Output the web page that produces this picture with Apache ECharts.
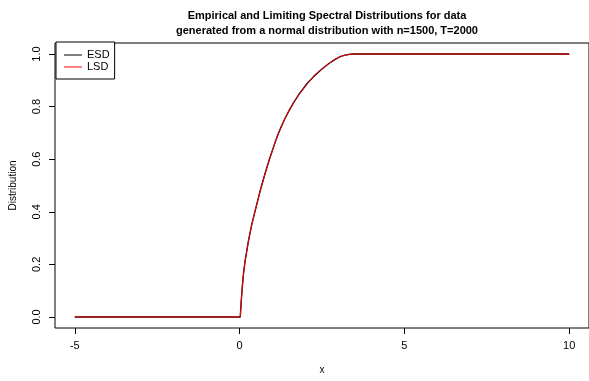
<!DOCTYPE html>
<html>
<head>
<meta charset="UTF-8">
<title>ESD vs LSD</title>
<script src="https://cdn.jsdelivr.net/npm/echarts@6/dist/echarts.min.js"></script>
<style>
    html, body { margin: 0; padding: 0; background: #fff; }
    #chart { width: 589px; height: 381px; }
</style>
</head>
<body>
<div id="chart"></div>
<script>
    // values
    const xs   = [-5, 0.02, 0.035, 0.05, 0.08, 0.12, 0.17, 0.27, 0.37, 0.52, 0.63, 0.76, 0.9, 1.08, 1.2, 1.35, 1.5,
                  1.64, 1.82, 2.05, 2.25, 2.49, 2.7, 2.9, 3.05, 3.2, 3.35, 3.48, 10];
    const esdY = [0, 0, 0.03, 0.06, 0.11, 0.167, 0.215, 0.29, 0.352, 0.428, 0.482, 0.54, 0.598, 0.665, 0.705, 0.748, 0.785,
                  0.815, 0.85, 0.888, 0.915, 0.942, 0.963, 0.98, 0.99, 0.996, 0.999, 1.0, 1.0];
    const lsdY = [0, 0, 0.03, 0.06, 0.11, 0.167, 0.215, 0.29, 0.352, 0.428, 0.482, 0.54, 0.598, 0.665, 0.705, 0.748, 0.785,
                  0.815, 0.85, 0.888, 0.915, 0.942, 0.963, 0.98, 0.99, 0.996, 0.999, 1.0, 1.0];
    const xTicks = [-5, 0, 5, 10];
    const yTicks = [0, 0.2, 0.4, 0.6, 0.8, 1.0];

    const font = 'Liberation Sans, Arial, Helvetica, sans-serif';
    const pairs = ys => xs.map((x, i) => [x, ys[i]]);

    const chart = echarts.init(document.getElementById('chart'));
    chart.setOption({
        animation: false,
        title: {
            text: 'Empirical and Limiting Spectral Distributions for data\ngenerated from a normal distribution with n=1500, T=2000',
            left: 322,
            top: 3,
            textAlign: 'center',
            textStyle: { fontFamily: font, fontSize: 11, fontWeight: 'bold', color: '#000', lineHeight: 15 }
        },
        legend: {
            orient: 'vertical',
            left: 56,
            top: 42,
            data: ['ESD', 'LSD'],
            icon: 'rect',
            itemWidth: 18,
            itemHeight: 1,
            itemGap: 0,
            padding: [7, 5, 6, 8],
            backgroundColor: '#fff',
            borderColor: '#000',
            borderWidth: 1,
            borderRadius: 0,
            textStyle: { fontFamily: font, fontSize: 11, color: '#000', lineHeight: 12 }
        },
        grid: {
            left: 55, top: 43, width: 536, height: 285,
            show: true, borderColor: '#000', borderWidth: 1
        },
        xAxis: {
            type: 'value',
            min: -5.6, max: 10.6,
            name: 'x',
            nameLocation: 'middle',
            nameGap: 37,
            nameTextStyle: { fontFamily: font, fontSize: 10, color: '#000' },
            axisLine: { show: false, onZero: false },
            axisTick: { show: true, length: 6, customValues: xTicks, lineStyle: { color: '#000' } },
            axisLabel: { customValues: xTicks, margin: 12, fontFamily: font, fontSize: 11, color: '#000' },
            splitLine: { show: false }
        },
        yAxis: {
            type: 'value',
            min: -0.042, max: 1.042,
            name: 'Distribution',
            nameLocation: 'middle',
            nameGap: 37,
            nameTextStyle: { fontFamily: font, fontSize: 10, color: '#000' },
            axisLine: { show: false, onZero: false },
            axisTick: { show: true, length: 6, customValues: yTicks, lineStyle: { color: '#000' } },
            axisLabel: {
                customValues: yTicks, rotate: 90, margin: 13,
                fontFamily: font, fontSize: 11, color: '#000',
                formatter: v => v.toFixed(1)
            },
            splitLine: { show: false }
        },
        series: [
            {
                name: 'ESD', type: 'line', data: pairs(esdY),
                symbol: 'none',
                lineStyle: { color: '#000', width: 1.4 }, itemStyle: { color: '#000' }
            },
            {
                name: 'LSD', type: 'line', data: pairs(lsdY),
                symbol: 'none',
                lineStyle: { color: '#ff0000', width: 1 }, itemStyle: { color: '#ff0000' }
            }
        ]
    });
</script>
</body>
</html>
